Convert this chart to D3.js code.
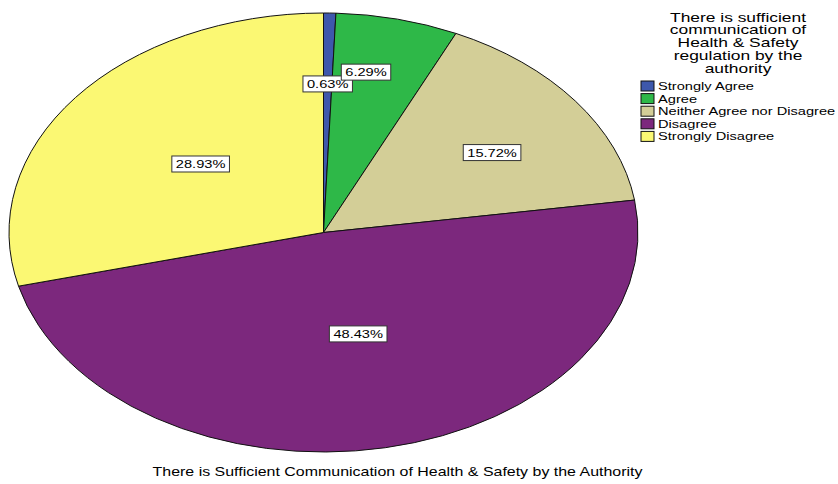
<!DOCTYPE html>
<html>
<head>
<meta charset="utf-8">
<script src="https://cdn.jsdelivr.net/npm/d3@7"></script>
<style>
  body { margin: 0; background: #fff; }
  svg { display: block; }
  text { font-family: Arial, "Liberation Sans", sans-serif; fill: #000; }
</style>
</head>
<body>
<svg id="chart" width="838" height="484"></svg>
<script>
// data
let categories = ['Strongly Agree', 'Agree', 'Neither Agree nor Disagree', 'Disagree', 'Strongly Disagree']
let counts = [1, 10, 25, 77, 46]
let colors = ['#3e58ac', '#2eb848', '#d3ce97', '#7c287d', '#fbf873']
let legendTitle = ['There is sufficient', 'communication of', 'Health & Safety', 'regulation by the', 'authority']
let chartTitle = 'There is Sufficient Communication of Health & Safety by the Authority'

// label placement (fraction of radius, angle nudge in degrees)
let labelRadius = [0.677, 0.743, 0.648, 0.475, 0.5]
let labelNudge = [0, -3.1, 2.6, -2.1, 0.7]

let stretch = 1.33
let cx = 323.5, cy = 232.5, rx = 314.5, ry = 219.5

let svg = d3.select('#chart')
let total = d3.sum(counts)
let pct = counts.map(d => (d / total * 100).toFixed(2) + '%')

let pie = d3.pie().sort(null).value(d => d)
let arcs = pie(counts)
let arc = d3.arc().innerRadius(0).outerRadius(rx)

// pie (circle squashed into ellipse)
let g = svg.append('g').attr('transform', 'translate(' + cx + ',' + cy + ') scale(1,' + (ry / rx) + ')')
g.selectAll('path').data(arcs).enter().append('path')
    .attr('d', arc)
    .attr('fill', (d, i) => colors[i])
    .attr('stroke', '#111')
    .attr('stroke-width', 1)
    .attr('vector-effect', 'non-scaling-stroke')

// labels
let labels = svg.append('g')
arcs.forEach((d, i) => {
    let a = (d.startAngle + d.endAngle) / 2 + labelNudge[i] * Math.PI / 180
    let x = cx + Math.sin(a) * rx * labelRadius[i]
    let y = cy - Math.cos(a) * ry * labelRadius[i]
    let lg = labels.append('g').attr('transform', 'translate(' + x + ',' + y + ')')
    let t = lg.append('text')
        .attr('text-anchor', 'middle')
        .attr('y', 4)
        .attr('font-size', 11)
        .attr('transform', 'scale(' + stretch + ',1)')
        .text(pct[i])
    let w = t.node().getComputedTextLength() * stretch + 8
    lg.insert('rect', 'text')
        .attr('x', -w / 2).attr('y', -8)
        .attr('width', w).attr('height', 16)
        .attr('fill', '#fff')
        .attr('stroke', '#333')
        .attr('stroke-width', 1)
})

// legend
let legend = svg.append('g')
legendTitle.forEach((s, i) => {
    legend.append('text')
        .attr('transform', 'translate(738,' + (21.5 + i * 12.75) + ') scale(1.45,1)')
        .attr('text-anchor', 'middle')
        .attr('font-size', 12)
        .text(s)
})
categories.forEach((c, i) => {
    let y = 86 + i * 12.6
    legend.append('rect')
        .attr('x', 641).attr('y', y - 5)
        .attr('width', 13).attr('height', 10)
        .attr('fill', colors[i])
        .attr('stroke', '#111')
        .attr('stroke-width', 1)
    legend.append('text')
        .attr('transform', 'translate(658,' + (y + 4) + ') scale(' + stretch + ',1)')
        .attr('font-size', 11)
        .text(c)
})

// bottom title
svg.append('text')
    .attr('transform', 'translate(397.5,476) scale(' + stretch + ',1)')
    .attr('text-anchor', 'middle')
    .attr('font-size', 12)
    .text(chartTitle)
</script>
</body>
</html>
